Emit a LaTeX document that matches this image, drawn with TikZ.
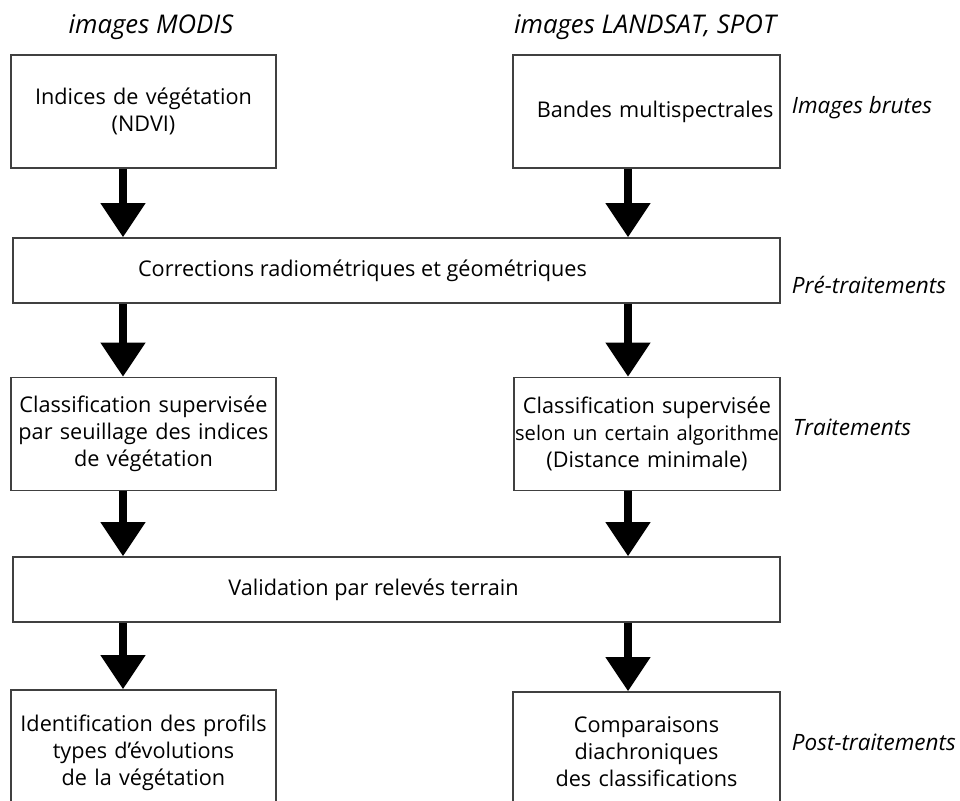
\documentclass[tikz,border=0pt]{standalone}
\usepackage{fontspec}
\setmainfont{Open Sans}
\usetikzlibrary{arrows.meta}

\newcommand\bodyfont{\fontsize{15.4}{19.1}\selectfont}
\tikzset{
  box/.style={draw=black!75, line width=1.1pt, align=center, inner sep=0pt},
  flow/.style={line width=5pt, -{Triangle[width=1.08cm,length=0.85cm]}},
  stage/.style={font=\fontsize{16}{19}\selectfont\itshape, anchor=west},
  source/.style={font=\fontsize{18.3}{22}\selectfont\itshape},
}

\begin{document}
\begin{tikzpicture}[x=0.025cm,y=-0.025cm,font=\bodyfont]
\clip (0,0) rectangle (960,801);
\fill[white] (0,0) rectangle (960,801);

% sources
\node[source] (tmodis) at (151,27) {images MODIS};
\node[source] (tland) at (645,27) {images LANDSAT, SPOT};

% boxes
\node[box, text width=6.625cm, minimum height=2.825cm] (ndvi) at (143.5,111.5) {Indices de végétation\\(NDVI)};
\node[box, text width=6.675cm, minimum height=2.825cm] (bandes) at (646.5,111.5) {\hspace*{0.43cm}Bandes multispectrales};
\node[box, minimum width=19.175cm, minimum height=1.625cm] (corr) at (396.5,270.5) {Corrections radiométriques et géométriques\hspace*{1.7cm}};
\node[box, text width=6.625cm, minimum height=2.825cm] (seuil) at (143.5,434) {Classification supervisée\\par seuillage des indices\\de végétation};
\node[box, text width=6.65cm, minimum height=2.825cm] (algo) at (647,434) {Classification supervisée\\{\fontsize{14.3}{19.1}\selectfont selon un certain algorithme}\\(Distance minimale)};
\node[box, minimum width=19.175cm, minimum height=1.625cm] (valid) at (396.5,589.5) {Validation par relevés terrain\hspace*{1.15cm}};
\node[box, text width=6.625cm, minimum height=3.15cm] (profils) at (143.5,753) {Identification des profils\\types d'évolutions\\de la végétation};
\node[box, text width=6.675cm, minimum height=3cm] (compar) at (646.5,752) {Comparaisons\\diachroniques\\des classifications};

% stages
\node[stage] (brutes) at (787,108) {Images brutes};
\node[stage] (pretr) at (787,285) {Pré-traitements};
\node[stage] (tr) at (788,427) {Traitements};
\node[stage] (posttr) at (787,742) {Post-traitements};

% arrows
\coordinate (lx) at (123,0);
\coordinate (rx) at (628,0);
\draw[flow] (ndvi.south -| lx) -- (corr.north -| lx);
\draw[flow] (bandes.south -| rx) -- (corr.north -| rx);
\draw[flow] (corr.south -| lx) -- (seuil.north -| lx);
\draw[flow] (corr.south -| rx) -- (algo.north -| rx);
\draw[flow] (seuil.south -| lx) -- (valid.north -| lx);
\draw[flow] (algo.south -| rx) -- (valid.north -| rx);
\draw[flow] (valid.south -| lx) -- (profils.north -| lx);
\draw[flow] (valid.south -| rx) -- (compar.north -| rx);
\end{tikzpicture}
\end{document}
